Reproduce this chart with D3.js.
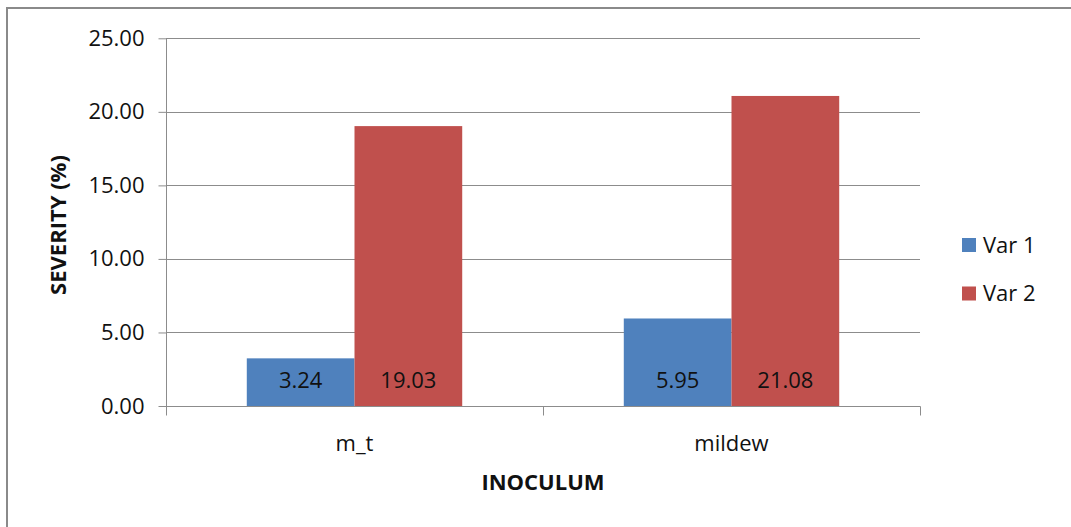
<!DOCTYPE html>
<html>
<head>
<meta charset="utf-8">
<script src="https://cdn.jsdelivr.net/npm/d3@7"></script>
<style>
  html, body { margin: 0; padding: 0; background: #fff; }
  svg { display: block; }
  text { font-family: "Open Sans", "Liberation Sans", sans-serif; fill: #111; }
</style>
</head>
<body>
<svg id="chart" width="1071" height="527"></svg>
<script>
const categories = ["m_t", "mildew"];
const seriesNames = ["Var 1", "Var 2"];
const var1 = [3.24, 5.95];
const var2 = [19.03, 21.08];
const yTicks = [0, 5, 10, 15, 20, 25];
const colors = ["#4F81BD", "#C0504D"];
const yTitle = "SEVERITY (%)";
const xTitle = "INOCULUM";

(function () {
const seriesValues = [var1, var2];
const rows = categories.map((c, i) => ({
  cat: c,
  vals: seriesNames.map((s, j) => ({ key: s, value: seriesValues[j][i], color: colors[j] }))
}));

const svg = d3.select("#chart");
const pLeft = 166, pRight = 920, pTop = 38.3, pBottom = 406;

// outer border
svg.append("rect").attr("x", 7).attr("y", 8).attr("width", 1200).attr("height", 700)
  .attr("fill", "none").attr("stroke", "#8a8a8a").attr("stroke-width", 2);

const y = d3.scaleLinear().domain([0, 25]).range([pBottom, pTop]);
const x0 = d3.scaleBand().domain(categories).range([pLeft, pRight]).paddingInner(0).paddingOuter(0);
const x1 = d3.scaleBand().domain(seriesNames).range([0, x0.bandwidth()]).paddingInner(0).paddingOuter(0.75);

// gridlines
svg.append("g").selectAll("line").data(yTicks.filter(t => t > 0)).join("line")
  .attr("x1", pLeft).attr("x2", pRight)
  .attr("y1", d => Math.round(y(d)) + 0.5).attr("y2", d => Math.round(y(d)) + 0.5)
  .attr("stroke", "#8c8c8c").attr("stroke-width", 1);

// y axis
const yAxis = d3.axisLeft(y).tickValues(yTicks).tickFormat(d3.format(".2f")).tickSize(8).tickPadding(14);
const gy = svg.append("g").attr("transform", `translate(${pLeft + 0.5},0)`).call(yAxis);
gy.select(".domain").attr("stroke", "#8c8c8c").attr("d", `M0,${pTop}V${pBottom + 9}`);
gy.selectAll(".tick line").attr("stroke", "#8c8c8c");
gy.selectAll(".tick text").attr("font-size", 22).attr("fill", "#111")
  .attr("font-family", "'Open Sans', sans-serif");

// bars
const groups = svg.append("g").selectAll("g").data(rows).join("g")
  .attr("transform", d => `translate(${x0(d.cat)},0)`);
groups.selectAll("rect").data(d => d.vals).join("rect")
  .attr("x", d => x1(d.key)).attr("width", x1.bandwidth())
  .attr("y", d => y(d.value)).attr("height", d => y(0) - y(d.value))
  .attr("fill", d => d.color);
groups.selectAll("text").data(d => d.vals).join("text")
  .attr("x", d => x1(d.key) + x1.bandwidth() / 2)
  .attr("y", y(0) - 26).attr("dy", "0.36em")
  .attr("text-anchor", "middle").attr("font-size", 22)
  .text(d => d3.format(".2f")(d.value));

// x axis
const xAxisG = svg.append("g").attr("transform", `translate(0,${Math.round(pBottom) + 0.5})`);
xAxisG.append("line").attr("x1", pLeft).attr("x2", pRight + 0.5).attr("stroke", "#8c8c8c");
const bounds = [pLeft, ...categories.map(c => x0(c) + x0.bandwidth())];
xAxisG.selectAll("line.tk").data(bounds).join("line").attr("class", "tk")
  .attr("x1", d => Math.round(d) + 0.5).attr("x2", d => Math.round(d) + 0.5)
  .attr("y1", 0).attr("y2", 9).attr("stroke", "#8c8c8c");
xAxisG.selectAll("text").data(categories).join("text")
  .attr("x", d => x0(d) + x0.bandwidth() / 2).attr("y", 44)
  .attr("text-anchor", "middle").attr("font-size", 22).text(d => d);

// axis titles
svg.append("text").attr("x", 543).attr("y", 490).attr("text-anchor", "middle")
  .attr("font-size", 22).attr("font-weight", "bold").text(xTitle);
svg.append("text").attr("transform", "translate(66,225) rotate(-90)").attr("text-anchor", "middle")
  .attr("font-size", 22).attr("font-weight", "bold").text(yTitle);

// legend
const leg = svg.append("g").selectAll("g").data(seriesNames).join("g")
  .attr("transform", (d, i) => `translate(962,${238 + i * 48.5})`);
leg.append("rect").attr("width", 14).attr("height", 14).attr("fill", (d, i) => colors[i]);
leg.append("text").attr("x", 21).attr("y", 7).attr("dy", "0.36em").attr("font-size", 22).text(d => d);
})();
</script>
</body>
</html>
